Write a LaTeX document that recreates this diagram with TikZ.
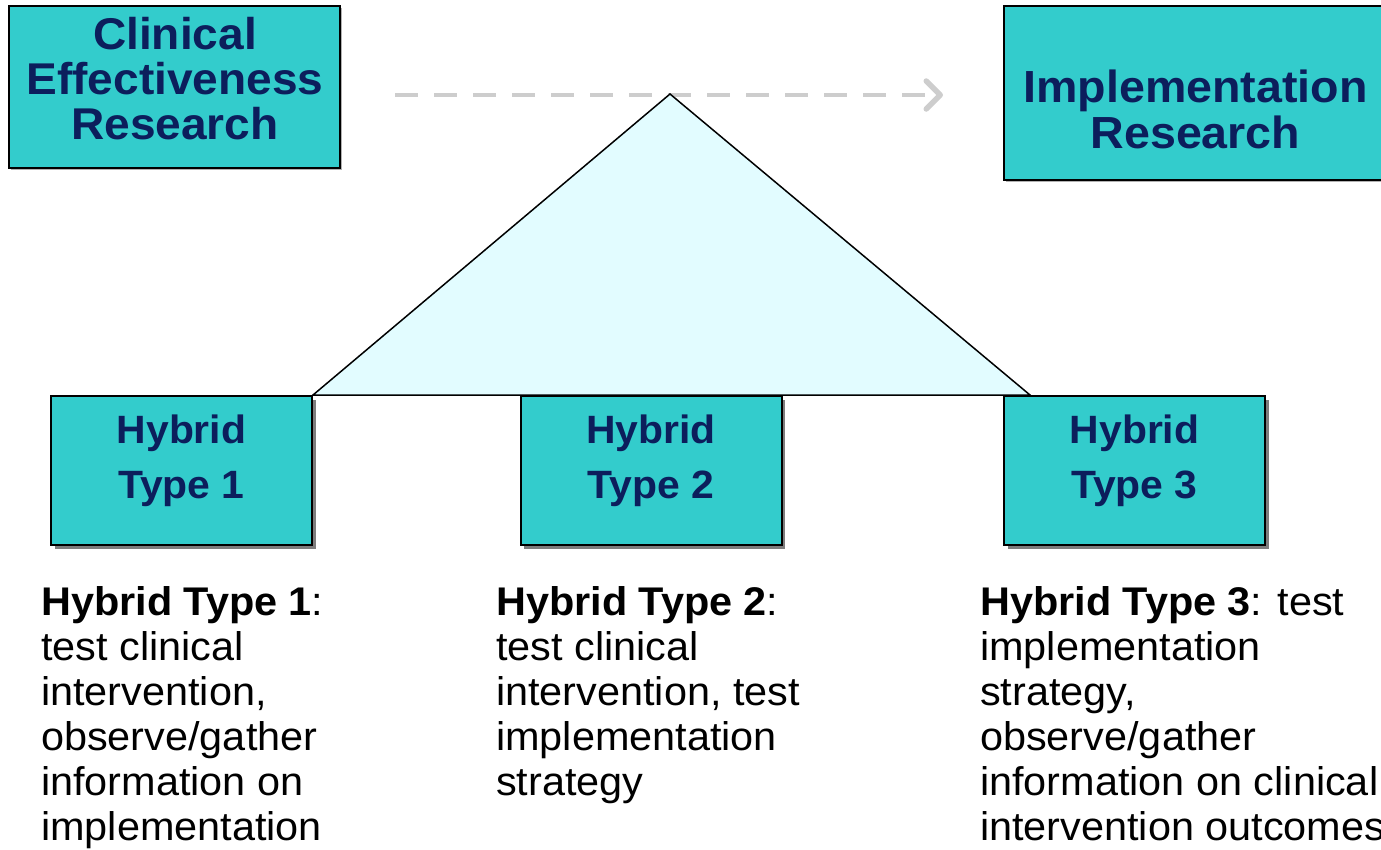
\documentclass[tikz,border=0pt]{standalone}
\usepackage{fontspec}
\setmainfont{Liberation Sans}[FakeStretch=1.035]
\usetikzlibrary{arrows.meta,shadows}

\definecolor{boxteal}{RGB}{51,204,204}
\definecolor{navytext}{RGB}{12,30,92}
\definecolor{paleaqua}{RGB}{226,252,255}
\definecolor{dashgray}{RGB}{205,205,205}
\definecolor{shadowgray}{RGB}{125,125,125}

\begin{document}
\begin{tikzpicture}[x=1pt,y=-1pt,
  tealbox/.style={draw=black, line width=2pt, fill=boxteal, inner sep=0pt},
  topbox/.style={tealbox,
    general shadow={fill=shadowgray!60, shadow xshift=2pt, shadow yshift=-2pt}},
  hybridbox/.style={tealbox, minimum width=261pt, minimum height=149pt,
    general shadow={fill=shadowgray, shadow xshift=3.5pt, shadow yshift=-3.5pt}},
  boxlabel/.style={anchor=base, inner sep=0pt, text=navytext},
  desc/.style={anchor=base west, inner sep=0pt, text=black,
    font=\fontsize{40}{45}\selectfont},
  flow/.style={draw=dashgray, line width=4.5pt, dash pattern=on 23pt off 16pt,
    -{Straight Barb[length=14pt,width=28pt,line cap=round,line join=round,line width=5.5pt]}},
  wedge/.style={draw=black, line width=1.5pt, fill=paleaqua, line join=miter}
]
\path[use as bounding box] (0,0) rectangle (1381,849);
\clip (0,0) rectangle (1381,849);

% progression arrow from clinical to implementation research
\coordinate (flowstart) at (395,95);
\coordinate (flowend) at (943,95);
\draw[flow] (flowstart) -- (flowend);

% the spectrum wedge spanning the three hybrid designs
\coordinate (apex) at (670,94);
\coordinate (baseL) at (313,395);
\coordinate (baseR) at (1030,395);
\draw[wedge] (apex) -- (baseL) -- (baseR) -- cycle;

% research poles
\node[topbox, minimum width=331pt, minimum height=162pt] (cer) at (174.5,87) {};
\node[boxlabel, font=\fontsize{44.5}{45}\selectfont\bfseries] (certext) at (175,49)
  {\parbox[t]{330pt}{\centering Clinical\\Effectiveness\\Research}};

\node[topbox, minimum width=383pt, minimum height=174pt] (impl) at (1195.5,93) {};
\node[boxlabel, font=\fontsize{45}{46}\selectfont\bfseries] (impltext) at (1195.5,102)
  {\parbox[t]{380pt}{\centering Implementation\\Research}};

% hybrid design boxes
\node[hybridbox] (h1) at (181.5,470.5) {};
\node[hybridbox] (h2) at (651,470.5) {};
\node[hybridbox] (h3) at (1134.5,470.5) {};
\node[boxlabel, font=\fontsize{39.5}{55}\selectfont\bfseries] (h1text) at (181.5,443)
  {\parbox[t]{240pt}{\centering Hybrid\\Type 1}};
\node[boxlabel, font=\fontsize{39.5}{55}\selectfont\bfseries] (h2text) at (651,443)
  {\parbox[t]{240pt}{\centering Hybrid\\Type 2}};
\node[boxlabel, font=\fontsize{39.5}{55}\selectfont\bfseries] (h3text) at (1134.5,443)
  {\parbox[t]{240pt}{\centering Hybrid\\Type 3}};

% descriptions
\node[desc] (d1) at (41,615) {\parbox[t]{420pt}{\raggedright
  \textbf{Hybrid Type 1}:\\test clinical\\intervention,\\observe/gather\\information on\\implementation}};
\node[desc] (d2) at (496,615) {\parbox[t]{420pt}{\raggedright
  \textbf{Hybrid Type 2}:\\test clinical\\intervention, test\\implementation\\strategy}};
\node[desc] (d3) at (980,615) {\parbox[t]{520pt}{\raggedright
  \textbf{Hybrid Type 3}: test\\implementation\\strategy,\\observe/gather\\information on clinical\\intervention outcomes}};
\end{tikzpicture}
\end{document}
